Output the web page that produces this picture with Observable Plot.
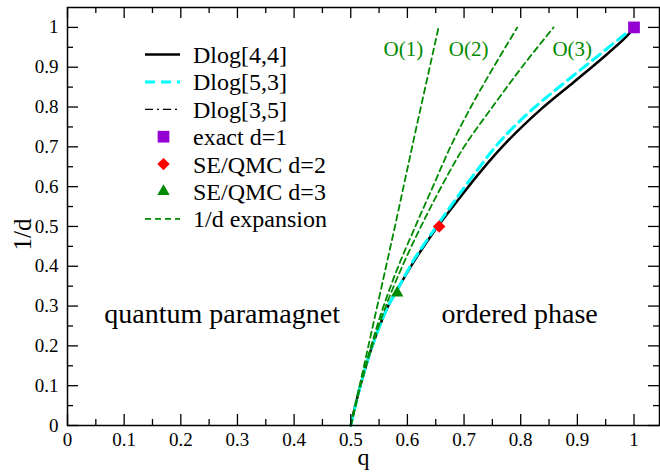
<!DOCTYPE html>
<html><head><meta charset="utf-8">
<script src="https://cdn.jsdelivr.net/npm/d3@7"></script>
<script src="https://cdn.jsdelivr.net/npm/@observablehq/plot@0.6"></script>
<style>
body{margin:0;background:#fff;}
#wrap{width:660px;height:476px;}
</style></head><body><div id="wrap"></div>
<script>
// ---- tick values and labels
const xMajor = [0,0.1,0.2,0.3,0.4,0.5,0.6,0.7,0.8,0.9,1];
const xMinor = [0.05,0.15,0.25,0.35,0.45,0.55,0.65,0.75,0.85,0.95];
const xTickLabels = ["0","0.1","0.2","0.3","0.4","0.5","0.6","0.7","0.8","0.9","1"];
const yMajor = [0,0.1,0.2,0.3,0.4,0.5,0.6,0.7,0.8,0.9,1];
const yMinor = [0.05,0.15,0.25,0.35,0.45,0.55,0.65,0.75,0.85,0.95];
const yTickLabels = ["0","0.1","0.2","0.3","0.4","0.5","0.6","0.7","0.8","0.9","1"];

// ---- Dlog[4,4] (solid black)
const dlog44_d = [0,0.05,0.1,0.15,0.2,0.25,0.3,0.333,0.385,0.42,0.473,0.501,0.566,0.641,0.716,0.796,0.863,0.92,0.976,1.0];
const dlog44_q = [0.5,0.508,0.517,0.527,0.538,0.551,0.566,0.579,0.600,0.615,0.640,0.654,0.689,0.731,0.778,0.837,0.894,0.942,0.986,1.0];
// ---- Dlog[5,3] (cyan dashed)
const dlog53_d = [0,0.1,0.2,0.3,0.333,0.385,0.42,0.473,0.501,0.566,0.641,0.716,0.796,0.863,0.92,0.976,1.0];
const dlog53_q = [0.5,0.517,0.538,0.566,0.579,0.599,0.613,0.638,0.652,0.684,0.723,0.765,0.822,0.879,0.929,0.978,1.0];
// ---- Dlog[3,5] (dash-dot black, coincides with Dlog[4,4])
const dlog35_d = [0,0.05,0.1,0.15,0.2,0.25,0.3,0.333,0.385,0.42,0.473,0.501,0.566,0.641,0.716,0.796,0.863,0.92,0.976,1.0];
const dlog35_q = [0.5,0.508,0.517,0.527,0.538,0.551,0.566,0.579,0.600,0.615,0.640,0.654,0.689,0.731,0.778,0.837,0.894,0.942,0.986,1.0];
// ---- 1/d expansion (green dashed)
const o1_d = [0,0.25,0.5,0.75,1.0];
const o1_q = [0.5,0.539,0.578,0.616,0.655];
const o2_d = [0,0.1,0.2,0.3,0.4,0.5,0.6,0.7,0.8,0.9,1.0];
const o2_q = [0.5,0.517,0.536,0.558,0.584,0.614,0.645,0.676,0.712,0.752,0.794];
const o3_d = [0,0.1,0.2,0.3,0.4,0.5,0.6,0.7,0.8,0.9,1.0];
const o3_q = [0.5,0.517,0.538,0.562,0.591,0.624,0.660,0.700,0.750,0.802,0.858];
const orderLabels = ["O(1)","O(2)","O(3)"];
const orderLabel_q = [0.593,0.708,0.891];
const orderLabel_d = [0.944,0.944,0.944];
// ---- points
const exact_q = [1.0], exact_d = [1.0];
const qmc2_q = [0.656], qmc2_d = [0.5];
const qmc3_q = [0.582], qmc3_d = [0.3333];
// ---- region labels
const regionLabels = ["quantum paramagnet","ordered phase"];
const region_q = [0.273,0.798];
const region_d = [0.281,0.281];
// ---- legend
const legendLabels = ["Dlog[4,4]","Dlog[5,3]","Dlog[3,5]","exact d=1","SE/QMC d=2","SE/QMC d=3","1/d expansion"];

// ---- styles
const GREEN = "#008a00", CYAN = "#00ffff", VIOLET = "#9400d3", RED = "#ff0000";
const legendStyles = [
  {kind:"line", stroke:"black", width:2.5, dash:null},
  {kind:"line", stroke:CYAN, width:3, dash:"10,6"},
  {kind:"line", stroke:"black", width:1.3, dash:"8,4,2,4"},
  {kind:"symbol", symbol:"square", fill:VIOLET, r:6.6},
  {kind:"symbol", symbol:"diamond2", fill:RED, r:5.6},
  {kind:"symbol", symbol:"triangle", fill:GREEN, r:4.6},
  {kind:"line", stroke:GREEN, width:1.8, dash:"6,4"}
];

const zip = (qs, ds) => qs.map((q, i) => ({q, d: ds[i]}));
const W = 660, H = 476, mL = 67, mR = 1, mT = 7, mB = 51;
const innerW = W - mL - mR, innerH = H - mT - mB;
const FONT = '"Liberation Serif", "Times New Roman", Times, serif';

const chart = Plot.plot({
  width: W, height: H,
  marginLeft: mL, marginRight: mR, marginTop: mT, marginBottom: mB,
  style: {fontFamily: FONT, background: "white", color: "black", overflow: "visible"},
  x: {domain: [0, 1.045]},
  y: {domain: [0, 1.05]},
  marks: [
    // curves
    Plot.line(zip(dlog35_q, dlog35_d), {x: "q", y: "d", stroke: "black", strokeWidth: 1.3, strokeDasharray: "8,4,2,4", curve: "catmull-rom"}),
    Plot.line(zip(dlog44_q, dlog44_d), {x: "q", y: "d", stroke: "black", strokeWidth: 2.5, curve: "catmull-rom"}),
    Plot.line(zip(dlog53_q, dlog53_d), {x: "q", y: "d", stroke: CYAN, strokeWidth: 3, strokeDasharray: "10,6", curve: "catmull-rom"}),
    Plot.line(zip(o1_q, o1_d), {x: "q", y: "d", stroke: GREEN, strokeWidth: 1.8, strokeDasharray: "6,4"}),
    Plot.line(zip(o2_q, o2_d), {x: "q", y: "d", stroke: GREEN, strokeWidth: 1.8, strokeDasharray: "6,4", curve: "catmull-rom"}),
    Plot.line(zip(o3_q, o3_d), {x: "q", y: "d", stroke: GREEN, strokeWidth: 1.8, strokeDasharray: "6,4", curve: "catmull-rom"}),
    // points
    Plot.dot(zip(exact_q, exact_d), {x: "q", y: "d", symbol: "square", fill: VIOLET, r: 6.6}),
    Plot.dot(zip(qmc2_q, qmc2_d), {x: "q", y: "d", symbol: "diamond2", fill: RED, r: 5.6}),
    Plot.dot(zip(qmc3_q, qmc3_d), {x: "q", y: "d", symbol: "triangle", fill: GREEN, r: 4.6}),
    // annotations
    Plot.text(orderLabels.map((t, i) => ({t, q: orderLabel_q[i], d: orderLabel_d[i]})), {x: "q", y: "d", text: "t", fill: GREEN, fontSize: 21, fontFamily: FONT}),
    Plot.text(regionLabels.map((t, i) => ({t, q: region_q[i], d: region_d[i]})), {x: "q", y: "d", text: "t", fill: "black", fontSize: 28, fontFamily: FONT}),
    // frame and inward ticks
    Plot.frame({stroke: "black", strokeWidth: 1.5}),
    Plot.tickX(xMajor, {x: d => d, insetTop: innerH - 11, stroke: "black", strokeWidth: 1.3}),
    Plot.tickX(xMajor, {x: d => d, insetBottom: innerH - 11, stroke: "black", strokeWidth: 1.3}),
    Plot.tickX(xMinor, {x: d => d, insetTop: innerH - 6, stroke: "black", strokeWidth: 1.3}),
    Plot.tickX(xMinor, {x: d => d, insetBottom: innerH - 6, stroke: "black", strokeWidth: 1.3}),
    Plot.tickY(yMajor, {y: d => d, insetRight: innerW - 11, stroke: "black", strokeWidth: 1.3}),
    Plot.tickY(yMajor, {y: d => d, insetLeft: innerW - 11, stroke: "black", strokeWidth: 1.3}),
    Plot.tickY(yMinor, {y: d => d, insetRight: innerW - 6, stroke: "black", strokeWidth: 1.3}),
    Plot.tickY(yMinor, {y: d => d, insetLeft: innerW - 6, stroke: "black", strokeWidth: 1.3}),
    // axes (labels only)
    Plot.axisX({ticks: xMajor, tickSize: 0, tickPadding: 7, fontSize: 19, fontFamily: FONT, label: null,
      tickFormat: d => xTickLabels[xMajor.indexOf(d)]}),
    Plot.axisY({ticks: yMajor, tickSize: 0, tickPadding: 9, fontSize: 19, fontFamily: FONT, label: null,
      tickFormat: d => yTickLabels[yMajor.indexOf(d)]}),
    Plot.text(["q"], {frameAnchor: "bottom", dy: 39, fontSize: 24, fill: "black", fontFamily: FONT}),
    Plot.text(["1/d"], {frameAnchor: "left", dx: -45, dy: 34, rotate: -90, fontSize: 25, fill: "black", fontFamily: FONT})
  ]
});

document.getElementById("wrap").appendChild(chart);

// legend inside the frame
const svg = d3.select(chart);
const lg = svg.append("g").attr("font-family", FONT).attr("font-size", 24).attr("text-anchor", "start");
legendLabels.forEach((label, i) => {
  const y = 54.5 + 27.4 * i;
  const st = legendStyles[i];
  if (st.kind === "line") {
    lg.append("line").attr("x1", 145).attr("x2", 180).attr("y1", y).attr("y2", y)
      .attr("stroke", st.stroke).attr("stroke-width", st.width)
      .attr("stroke-dasharray", st.dash);
  } else {
    const sym = {square: d3.symbolSquare, diamond2: d3.symbolDiamond2, triangle: d3.symbolTriangle}[st.symbol];
    lg.append("path").attr("d", d3.symbol(sym, Math.PI * st.r * st.r)())
      .attr("transform", `translate(163.5,${y})`).attr("fill", st.fill);
  }
  lg.append("text").attr("x", 193).attr("y", y).attr("dy", "0.35em")
    .attr("text-anchor", "start").attr("fill", "black").text(label);
});
</script>
</body></html>
